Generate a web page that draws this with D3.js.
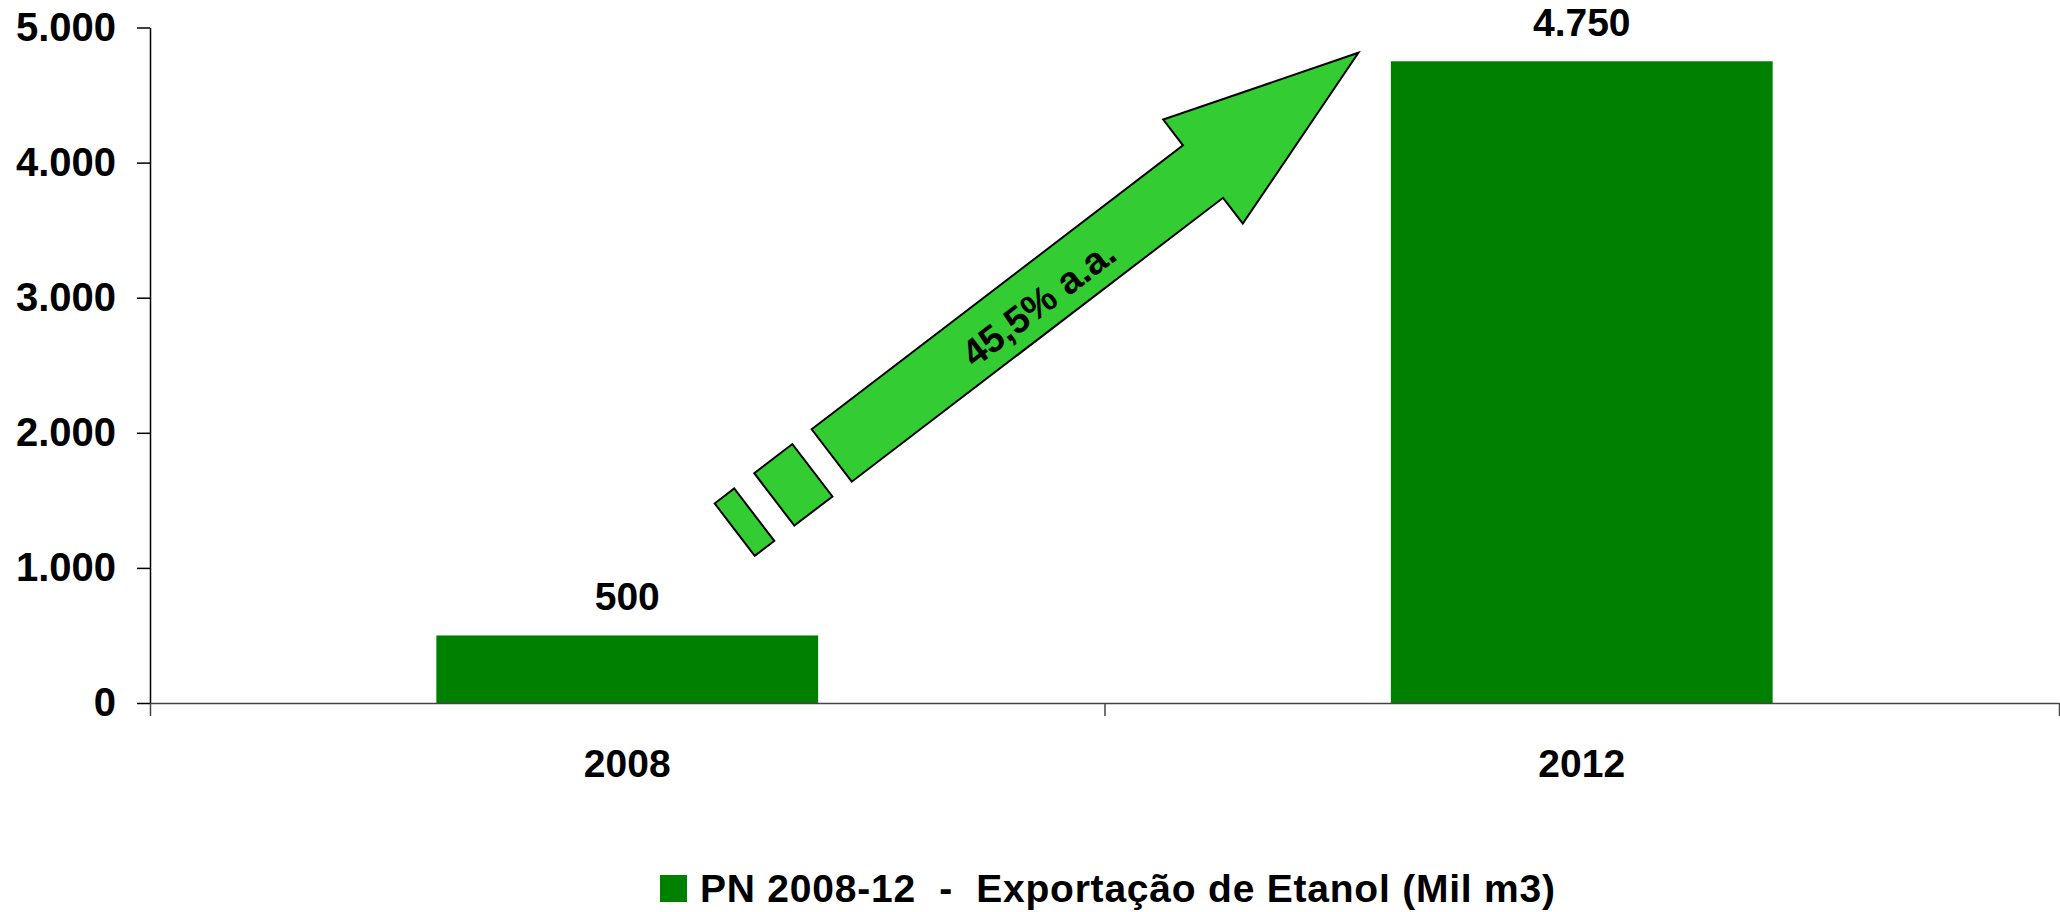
<!DOCTYPE html>
<html>
<head>
<meta charset="utf-8">
<script src="https://cdn.jsdelivr.net/npm/d3@7"></script>
<style>
  html, body { margin: 0; padding: 0; background: #fff; }
  svg text { font-family: "Liberation Sans", Arial, sans-serif; font-weight: bold; fill: #000; }
</style>
</head>
<body>
<svg id="chart" width="2060" height="912"></svg>
<script>
// ---- data ----
const categories = ["2008", "2012"];
const values = [500, 4750];
const valueLabels = ["500", "4.750"];
const yTicks = [0, 1000, 2000, 3000, 4000, 5000];
const seriesName = "PN 2008-12  -  Exportação de Etanol (Mil m3)";
const growthLabel = "45,5% a.a.";
// growth arrow: from / to in (fraction of x axis, value) space
const arrowFrom = [0.3571, 1832];
const arrowTo = [0.6330, 4813];

// ---- layout ----
const svg = d3.select("#chart");
const x0 = 150, x1 = 2059, yBottom = 703, yTop = 27.5;

const x = d3.scaleBand().domain(categories).range([x0, x1]).paddingInner(0.6).paddingOuter(0.3);
const xEdge = d3.scaleLinear().domain([0, categories.length]).range([x0, x1]);
const xFrac = d3.scaleLinear().domain([0, 1]).range([x0, x1]);
const y = d3.scaleLinear().domain([0, 5000]).range([yBottom, yTop]);

const fmt = d => d3.format(",")(d).replace(/,/g, ".");

// bars
svg.append("g").selectAll("rect").data(values).join("rect")
  .attr("x", (d, i) => x(categories[i]))
  .attr("y", d => y(d))
  .attr("width", x.bandwidth())
  .attr("height", d => y(0) - y(d))
  .attr("fill", "#008000");

// value labels
svg.append("g").selectAll("text").data(values).join("text")
  .attr("x", (d, i) => x(categories[i]) + x.bandwidth() / 2)
  .attr("y", d => y(d) - 25)
  .attr("text-anchor", "middle")
  .style("font-size", "39px")
  .text((d, i) => valueLabels[i]);

// y axis
const yAxis = svg.append("g").attr("transform", `translate(${x0},0)`)
  .call(d3.axisLeft(y).tickValues(yTicks).tickFormat(fmt).tickSize(13).tickPadding(21).tickSizeOuter(0));
yAxis.selectAll("text").style("font-size", "40px").attr("fill", "#000")
  .style("font-family", "'Liberation Sans', Arial, sans-serif").style("font-weight", "bold");
yAxis.selectAll("line,path").attr("stroke", "#000").attr("stroke-width", 1.5);

// x axis
const xAxis = svg.append("g").attr("transform", `translate(0,${yBottom})`)
  .call(d3.axisBottom(xEdge).tickValues(d3.range(categories.length + 1)).tickFormat("").tickSize(13).tickSizeOuter(0));
xAxis.selectAll("line,path").attr("stroke", "#444").attr("stroke-width", 1.5);

// category labels
svg.append("g").selectAll("text").data(categories).join("text")
  .attr("x", d => x(d) + x.bandwidth() / 2)
  .attr("y", 777)
  .attr("text-anchor", "middle")
  .style("font-size", "39px")
  .text(d => d);

// growth arrow
const p0 = [xFrac(arrowFrom[0]), y(arrowFrom[1])];
const p1 = [xFrac(arrowTo[0]), y(arrowTo[1])];
const len = Math.hypot(p1[0] - p0[0], p1[1] - p0[1]);
const u = [(p1[0] - p0[0]) / len, (p1[1] - p0[1]) / len];
const n = [-u[1], u[0]];
const P = (a, b) => [p0[0] + u[0] * a + n[0] * b, p0[1] + u[1] * a + n[1] * b];
const shaftW = 33, headW = 65.5, headL = 195.6;
const shaftL = len - headL;
const arrowPts = [P(0, -shaftW), P(shaftL, -shaftW), P(shaftL, -headW), P(len, 0),
                  P(shaftL, headW), P(shaftL, shaftW), P(0, shaftW)];
const pieces = [[-72.3, -24.3], [-122.1, -97.5]];
const arrowG = svg.append("g");
pieces.forEach(([a, b]) => {
  arrowG.append("polygon")
    .attr("points", [P(a, -shaftW), P(b, -shaftW), P(b, shaftW), P(a, shaftW)].map(p => p.join(",")).join(" "))
    .attr("fill", "#33CC33").attr("stroke", "#000").attr("stroke-width", 2).attr("stroke-linejoin", "miter");
});
arrowG.append("polygon")
  .attr("points", arrowPts.map(p => p.join(",")).join(" "))
  .attr("fill", "#33CC33").attr("stroke", "#000").attr("stroke-width", 2).attr("stroke-linejoin", "miter");
const tc = P(257, 4);
const ang = Math.atan2(u[1], u[0]) * 180 / Math.PI;
arrowG.append("text")
  .attr("transform", `translate(${tc[0]},${tc[1]}) rotate(${ang})`)
  .attr("text-anchor", "middle")
  .attr("dy", "0.36em")
  .style("font-size", "38px")
  .text(growthLabel);

// legend
const lg = svg.append("g");
lg.append("rect").attr("x", 660).attr("y", 875).attr("width", 27).attr("height", 27).attr("fill", "#008000");
lg.append("text").attr("x", 700).attr("y", 902)
  .style("font-size", "39px").style("white-space", "pre")
  .attr("textLength", 855).attr("lengthAdjust", "spacing")
  .text(seriesName);
</script>
</body>
</html>
